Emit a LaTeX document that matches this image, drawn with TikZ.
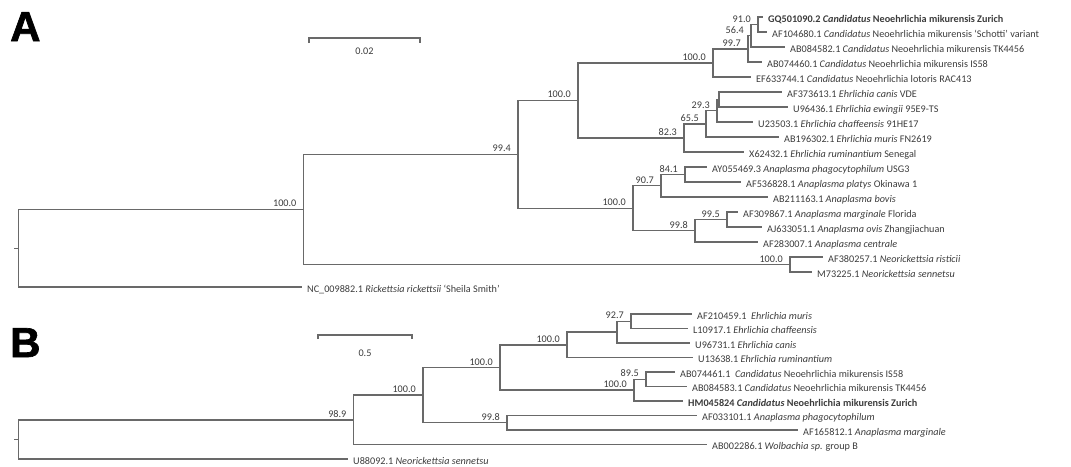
\documentclass[tikz,border=0pt]{standalone}
\usepackage{fontspec}
\setmainfont{Carlito}
\newfontfamily\panelfont{Liberation Sans}[FakeBold=1.6]
\definecolor{treeline}{RGB}{105,105,105}
\definecolor{treetext}{RGB}{60,60,60}

\begin{document}
\begin{tikzpicture}[x=1pt,y=-1pt,font=\fontsize{10.2}{12}\selectfont,
  branch/.style={draw=treeline,line width=1.4pt},
  tip/.style={anchor=base west,inner sep=0pt,xshift=5pt,yshift=-5pt,text=treetext},
  supp/.style={anchor=base east,inner sep=0pt,xshift=-7pt,yshift=2.5pt,text=treetext},
  panel/.style={anchor=north west,inner sep=0pt,font=\panelfont\bfseries\fontsize{42}{42}\selectfont}]
\useasboundingbox (0,0) rectangle (1071,466);

\node[panel] (panA) at (10,12) {A};
\node[panel] (panB) at (10,328) {B};

\foreach \n/\x/\y in {
  tA1/763/17, tA2/767/32, tA3/785/47, tA4/762/62, tA5/751/77, tA6/782/92,
  tA7/788/107, tA8/753/122, tA9/779/137, tA10/744/152, tA11/707/167,
  tA12/741/182, tA13/768/197, tA14/738/212, tA15/762/227, tA16/758/242,
  tA17/823/257, tA18/812/272, tA19/302/287,
  a91/758/24.5, a56/751/35.75, a997/748/48.9, aNeo/713/62.9, aE1/719/99.5,
  a293/717/110.75, a655/706/123.9, a823/684/137.9, aNE/578/100.4,
  a841/685/174.5, a907/661/185.75, a995/727/219.5, a998/695/230.75,
  aAna/633/208.25, a994/518/154.3, aNr/790/264.5, aIn/303.6/209.4,
  aRoot/18.6/248.2, aStub/13.6/248.2,
  tB1/692/314, tB2/688/328.5, tB3/690/343, tB4/693/357.5, tB5/675/372,
  tB6/687/386.5, tB7/683/401, tB8/697/415.5, tB9/798/430, tB10/707/444.5,
  tB11/348/459,
  b927/631/321.25, bEc/617/332.1, bEh/567/344.8, b895/646/379.25,
  bNeo/634/390.1, bEN/500/367.5, b998/507/422.75, b100/423/395.1,
  b989/353.6/419.8, bRoot/18.6/439.4, bStub/13.6/439.4%
}{
  \coordinate (\n) at (\x,\y);
}

\foreach \p/\c in {
  aRoot/aIn, aRoot/tA19, aIn/a994, aIn/aNr, aNr/tA17, aNr/tA18,
  a994/aNE, a994/aAna, aNE/aNeo, aNE/a823, aNeo/a997, aNeo/tA5,
  a997/a56, a997/tA4, a56/a91, a56/tA3, a91/tA1, a91/tA2,
  a823/a655, a823/tA10, a655/a293, a655/tA9, a293/aE1, a293/tA8,
  aE1/tA6, aE1/tA7, aAna/a907, aAna/a998, a907/a841, a907/tA13,
  a841/tA11, a841/tA12, a998/a995, a998/tA16, a995/tA14, a995/tA15,
  bRoot/b989, bRoot/tB11, b989/b100, b989/tB10, b100/bEN, b100/b998,
  b998/tB8, b998/tB9, bEN/bEh, bEN/bNeo, bEh/bEc, bEh/tB4,
  bEc/b927, bEc/tB3, b927/tB1, b927/tB2, bNeo/b895, bNeo/tB7,
  b895/tB5, b895/tB6%
}{
  \draw[branch] (\p) |- (\c);
}
\draw[branch] (aRoot) -- (aStub);
\draw[branch] (bRoot) -- (bStub);

\foreach \n/\v in {
  aIn/100.0, a994/99.4, aNE/100.0, aNeo/100.0, a997/99.7, a56/56.4,
  a91/91.0, a293/29.3, a655/65.5, a823/82.3, aAna/100.0, a907/90.7,
  a841/84.1, a998/99.8, a995/99.5, aNr/100.0,
  b989/98.9, b100/100.0, bEN/100.0, bEh/100.0, b927/92.7, bNeo/100.0,
  b895/89.5, b998/99.8%
}{
  \node[supp] (s\n) at (\n) {\v};
}

\foreach \i/\txt in {
  1/{\textbf{GQ501090.2 \textit{Candidatus} Neoehrlichia mikurensis Zurich}},
  2/{AF104680.1 \textit{Candidatus} Neoehrlichia mikurensis `Schotti' variant},
  3/{AB084582.1 \textit{Candidatus} Neoehrlichia mikurensis TK4456},
  4/{AB074460.1 \textit{Candidatus} Neoehrlichia mikurensis IS58},
  5/{EF633744.1 \textit{Candidatus} Neoehrlichia lotoris RAC413},
  6/{AF373613.1 \textit{Ehrlichia canis} VDE},
  7/{U96436.1 \textit{Ehrlichia ewingii} 95E9-TS},
  8/{U23503.1 \textit{Ehrlichia chaffeensis} 91HE17},
  9/{AB196302.1 \textit{Ehrlichia muris} FN2619},
  10/{X62432.1 \textit{Ehrlichia ruminantium} Senegal},
  11/{AY055469.3 \textit{Anaplasma phagocytophilum} USG3},
  12/{AF536828.1 \textit{Anaplasma platys} Okinawa 1},
  13/{AB211163.1 \textit{Anaplasma bovis}},
  14/{AF309867.1 \textit{Anaplasma marginale} Florida},
  15/{AJ633051.1 \textit{Anaplasma ovis} Zhangjiachuan},
  16/{AF283007.1 \textit{Anaplasma centrale}},
  17/{AF380257.1 \textit{Neorickettsia risticii}},
  18/{M73225.1 \textit{Neorickettsia sennetsu}},
  19/{NC\_009882.1 \textit{Rickettsia rickettsii} `Sheila Smith'}%
}{
  \node[tip] (lA\i) at (tA\i) {\txt};
}

\foreach \i/\txt in {
  1/{AF210459.1\ \ \textit{Ehrlichia muris}},
  2/{L10917.1 \textit{Ehrlichia chaffeensis}},
  3/{U96731.1 \textit{Ehrlichia canis}},
  4/{U13638.1 \textit{Ehrlichia ruminantium}},
  5/{AB074461.1\ \ \textit{Candidatus} Neoehrlichia mikurensis IS58},
  6/{AB084583.1 \textit{Candidatus} Neoehrlichia mikurensis TK4456},
  7/{\textbf{HM045824 \textit{Candidatus} Neoehrlichia mikurensis Zurich}},
  8/{AF033101.1 \textit{Anaplasma phagocytophilum}},
  9/{AF165812.1 \textit{Anaplasma marginale}},
  10/{AB002286.1 \textit{Wolbachia sp.} group B},
  11/{U88092.1 \textit{Neorickettsia sennetsu}}%
}{
  \node[tip] (lB\i) at (tB\i) {\txt};
}

\coordinate (barAl) at (309,43);
\coordinate (barAr) at (420,43);
\draw[branch,line width=1.1pt] (barAl) -- ++(0,-5) -| (barAr);
\node[text=treetext] (barAlab) at (364.5,51) {0.02};
\coordinate (barBl) at (318,339);
\coordinate (barBr) at (412,339);
\draw[branch,line width=1.1pt] (barBl) -- ++(0,-4) -| (barBr);
\node[text=treetext] (barBlab) at (365,353) {0.5};
\end{tikzpicture}
\end{document}
